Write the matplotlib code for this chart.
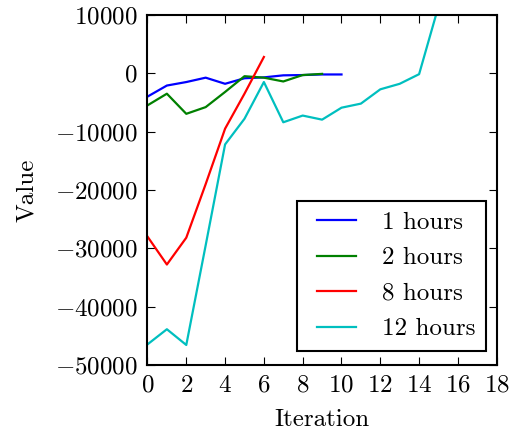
import numpy as np
import matplotlib
matplotlib.use("Agg")
import matplotlib.pyplot as plt
from matplotlib.lines import Line2D
from matplotlib.legend_handler import HandlerLine2D

# values
it_1h = list(range(11))
val_1h = [-4000, -2100, -1500, -750, -1800, -850, -700, -350, -300, -200, -200]

it_2h = list(range(10))
val_2h = [-5500, -3500, -6950, -5800, -3200, -500, -750, -1400, -300, -100]

it_8h = list(range(7))
val_8h = [-28000, -32800, -28200, -19000, -9500, -3500, 2800]

it_12h = list(range(16))
val_12h = [-46500, -43900, -46600, -29500, -12200, -7800, -1500, -8400,
           -7250, -7950, -5900, -5200, -2750, -1800, -150, 11500]

plt.rcParams['font.family'] = 'cmr10'
plt.rcParams['mathtext.fontset'] = 'cm'
plt.rcParams['axes.formatter.use_mathtext'] = True
plt.rcParams['font.size'] = 18
plt.rcParams['axes.linewidth'] = 1.5
plt.rcParams['xtick.direction'] = 'in'
plt.rcParams['ytick.direction'] = 'in'
plt.rcParams['xtick.top'] = True
plt.rcParams['ytick.right'] = True

fig = plt.figure(figsize=(5.18, 4.36), dpi=100)
ax = fig.add_axes([0.2847, 0.1633, 0.6742, 0.8023])

ax.plot(it_1h, val_1h, color=(0, 0, 1), lw=1.6, label="1 hours")
ax.plot(it_2h, val_2h, color=(0, 0.5, 0), lw=1.6, label="2 hours")
ax.plot(it_8h, val_8h, color=(1, 0, 0), lw=1.6, label="8 hours")
ax.plot(it_12h, val_12h, color=(0, 0.75, 0.75), lw=1.6, label="12 hours")

ax.set_xlim(0, 18)
ax.set_ylim(-50000, 10000)
ax.set_xticks(np.arange(0, 19, 2))
ax.set_yticks(np.arange(-50000, 10001, 10000))
ax.tick_params(length=6, width=0.8, pad=7)

ax.set_xlabel("Iteration", labelpad=9)
ax.set_ylabel("Value", labelpad=12)

leg = ax.legend(loc='lower right', bbox_to_anchor=(0.969, 0.040), borderaxespad=0,
                fancybox=False, framealpha=1, edgecolor='black',
                handlelength=1.93, handletextpad=1.04, labelspacing=0.52, borderpad=0.42,
                handler_map={Line2D: HandlerLine2D(xpad=0.38)})
leg.get_frame().set_linewidth(1.5)

fig.savefig("out.png", dpi=100)
